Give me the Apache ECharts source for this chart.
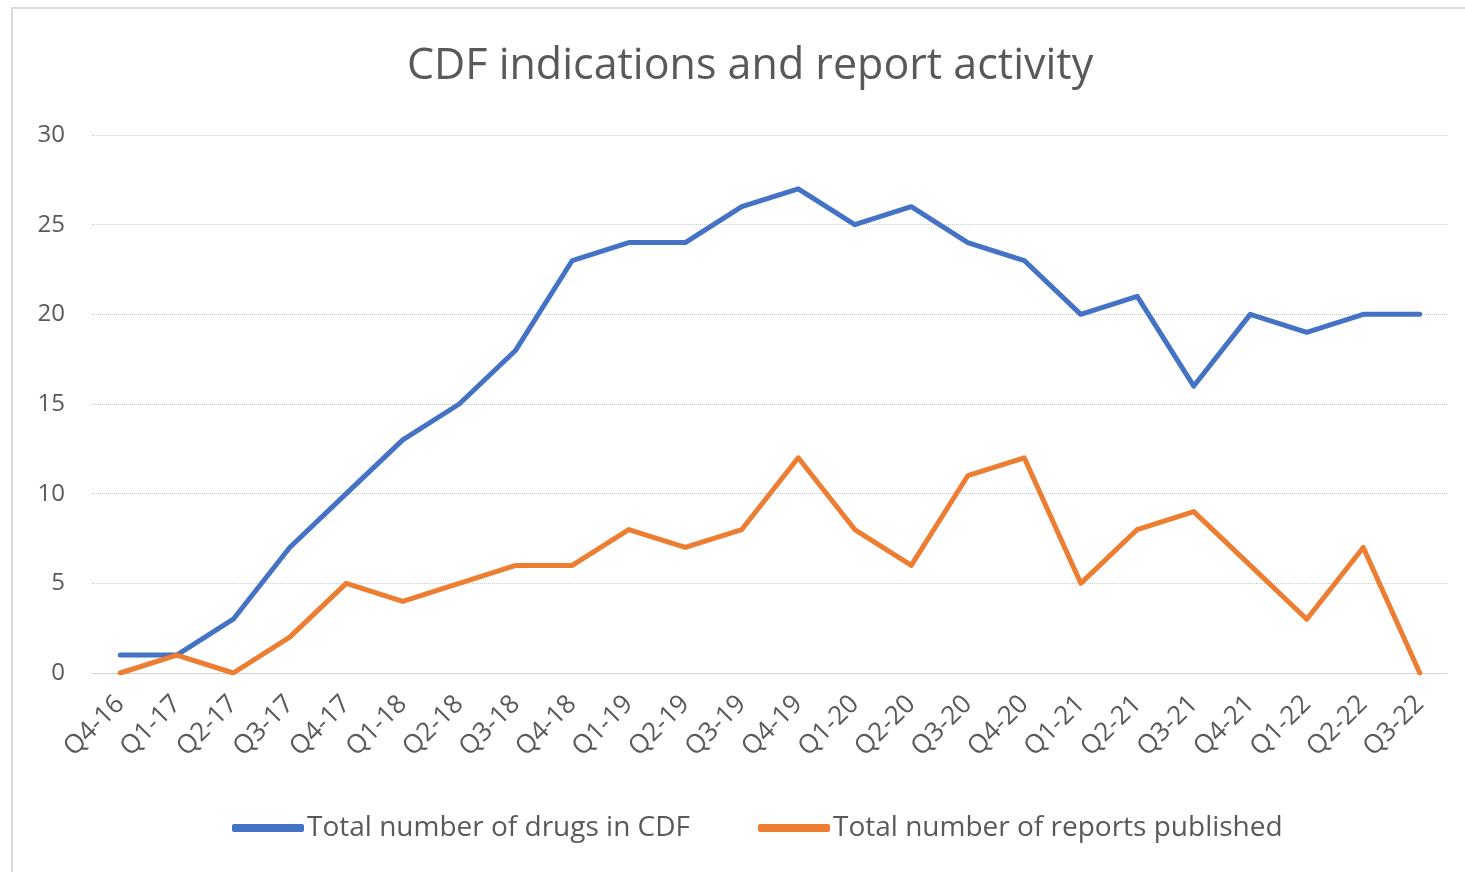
<!DOCTYPE html>
<html><head><meta charset="utf-8">
<script src="https://cdn.jsdelivr.net/npm/echarts@6/dist/echarts.min.js"></script>
<style>
html,body{margin:0;padding:0;background:#fff;}
#frame{position:absolute;left:11px;top:7px;width:1460px;height:880px;border:2px solid #d9d9d9;box-sizing:border-box;}
#c{position:absolute;left:0;top:0;width:1465px;height:872px;}
</style></head>
<body>
<div id="frame"></div>
<div id="c"></div>
<script>
const categories = ['Q4-16','Q1-17','Q2-17','Q3-17','Q4-17','Q1-18','Q2-18','Q3-18','Q4-18','Q1-19','Q2-19','Q3-19','Q4-19','Q1-20','Q2-20','Q3-20','Q4-20','Q1-21','Q2-21','Q3-21','Q4-21','Q1-22','Q2-22','Q3-22'];
const drugsInCDF = [1,1,3,7,10,13,15,18,23,24,24,26,27,25,26,24,23,20,21,16,20,19,20,20];
const reportsPublished = [0,1,0,2,5,4,5,6,6,8,7,8,12,8,6,11,12,5,8,9,6,3,7,0];
const seriesNames = ['Total number of drugs in CDF','Total number of reports published'];

const chart = echarts.init(document.getElementById('c'));
const font = 'Open Sans, Liberation Sans, sans-serif';
chart.setOption({
  animation:false,
  title:{text:'CDF indications and report activity',left:402,top:40,
    textStyle:{fontFamily:font,fontSize:43,fontWeight:'normal',color:'#595959'}},
  grid:{left:92,right:17,top:135,bottom:199,containLabel:false},
  legend:{top:809,left:227,itemWidth:72,itemHeight:8,itemGap:68,
    icon:'roundRect',
    textStyle:{fontFamily:font,fontSize:28,color:'#595959',padding:[0,0,0,-2]},
    data:seriesNames},
  xAxis:{type:'category',data:categories,boundaryGap:true,
    axisLine:{show:true,lineStyle:{color:'#c8c8c8',type:'dotted',width:1}},
    axisTick:{show:false},
    axisLabel:{rotate:45,fontFamily:font,fontSize:26,color:'#595959',margin:27,interval:0}},
  yAxis:{type:'value',min:0,max:30,interval:5,
    axisLine:{show:false},axisTick:{show:false},
    axisLabel:{fontFamily:font,fontSize:24,color:'#595959',margin:27},
    splitLine:{lineStyle:{color:'#c8c8c8',type:'dotted',width:1}}},
  series:[
    {name:seriesNames[0],type:'line',data:drugsInCDF,symbol:'none',
     lineStyle:{color:'#4472c4',width:5,cap:'round',join:'round'},itemStyle:{color:'#4472c4'}},
    {name:seriesNames[1],type:'line',data:reportsPublished,symbol:'none',
     lineStyle:{color:'#ed7d31',width:5,cap:'round',join:'round'},itemStyle:{color:'#ed7d31'}}
  ]
});
</script>
</body></html>
